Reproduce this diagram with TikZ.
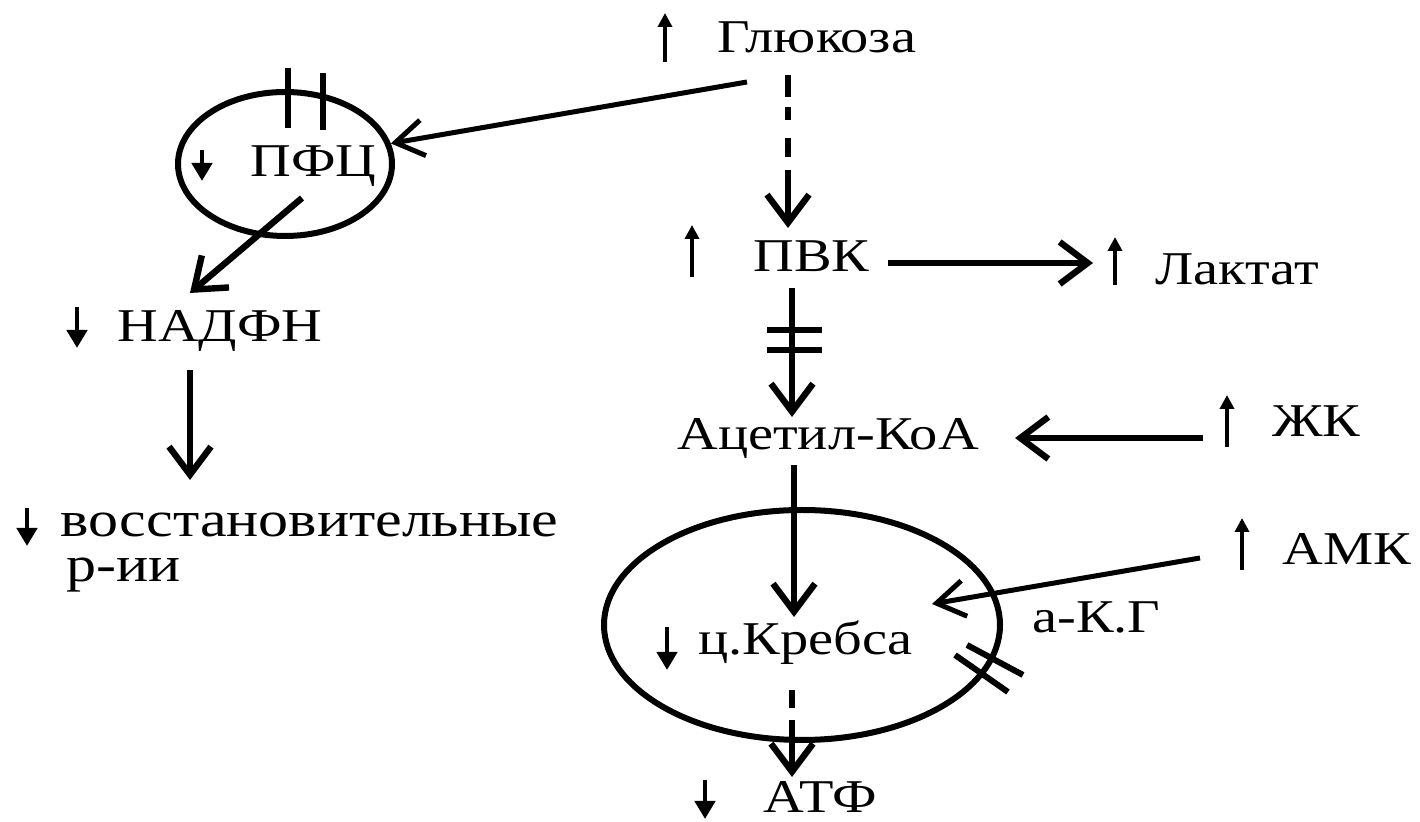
\documentclass[tikz,border=0pt]{standalone}
\usepackage{fontspec}
\setmainfont{Liberation Serif}[FakeStretch=1.2]
\usetikzlibrary{arrows.meta,shapes.geometric}
\begin{document}
\begin{tikzpicture}[x=0.5pt,y=-0.5pt,
  lbl/.style={inner sep=0pt, anchor=base west, font=\fontsize{23.5}{28}\selectfont},
  biglbl/.style={inner sep=0pt, anchor=base west, align=left, font=\fontsize{25}{22.5}\selectfont},
  cyc/.style={draw, ellipse, line width=3pt, inner sep=0pt},
  mainarr/.style={line width=3.2pt, -{Straight Barb[length=14pt,width=21pt]}},
  thinarr/.style={line width=2.5pt, -{Straight Barb[length=14pt,width=18pt]}},
  dashpart/.style={line width=3.2pt},
  bar/.style={line width=3pt},
  smallup/.style={line width=1.8pt, -{Triangle[length=7pt,width=7pt]}},
  smalldn/.style={line width=2.2pt, -{Triangle[length=9pt,width=10pt]}}]
\useasboundingbox (0,0) rectangle (1420,822);
\fill[white] (0,0) rectangle (1420,822);

% cycles
\node[cyc, minimum width=107pt, minimum height=72pt] (pfc) at (285,164) {};
\node[cyc, minimum width=198pt, minimum height=115pt] (krebs) at (802,625) {};

% labels
\node[lbl] (gluc) at (717,53) {Глюкоза};
\node[lbl] (pvk) at (753,272) {ПВК};
\node[lbl] (lakt) at (1155,285) {Лактат};
\node[lbl] (acet) at (677,450) {Ацетил-КоА};
\node[lbl] (zhk) at (1272,437) {ЖК};
\node[lbl] (amk) at (1282,565) {АМК};
\node[lbl] (akg) at (1032,633) {а-К.Г};
\node[lbl] (krebstxt) at (698,655) {ц.Кребса};
\node[lbl] (atf) at (763,813) {АТФ};
\node[lbl] (pfctxt) at (250,177) {ПФЦ};
\node[lbl] (nadfn) at (117,342) {НАДФН};
\node[biglbl] (vosst) at (60,582) {восстановительные\\\hspace*{3pt}р-ии};

% small up / down marks
\draw[smallup] (665,62) -- (665,13);
\draw[smallup] (692,277) -- (692,225);
\draw[smallup] (1115,285) -- (1115,237);
\draw[smallup] (1227,447) -- (1227,395);
\draw[smallup] (1242,570) -- (1242,518);
\draw[smalldn] (202,150) -- (202,181);
\draw[smalldn] (77,307) -- (77,348);
\draw[smalldn] (27,508) -- (27,546);
\draw[smalldn] (667,627) -- (667,670);
\draw[smalldn] (705,780) -- (705,819);

% connector end points
\coordinate (gA) at (747,82);
\coordinate (gD1) at (788,75);
\coordinate (gD2) at (788,170);
\coordinate (gD3) at (788,228);
\coordinate (pL1) at (888,263);
\coordinate (pL2) at (1093,263);
\coordinate (pA1) at (792,288);
\coordinate (pA2) at (792,417);
\coordinate (zA1) at (1203,438);
\coordinate (zA2) at (1015,438);
\coordinate (aK1) at (794,465);
\coordinate (aK2) at (794,617);
\coordinate (mK1) at (1200,558);
\coordinate (mK2) at (932,604);
\coordinate (kT1) at (792,690);
\coordinate (kT2) at (792,720);
\coordinate (kT3) at (792,777);
\coordinate (fN1) at (302,198);
\coordinate (fN2) at (190,293);
\coordinate (nV1) at (190,370);
\coordinate (nV2) at (190,480);

% connectors
\draw[thinarr] (gA) -- (pfc.11);
\draw[dashpart, dash pattern=on 11pt off 5pt on 6.5pt off 9pt on 9.5pt off 100pt] (gD1) -- (gD2);
\draw[mainarr] (gD2) -- (gD3);
\draw[mainarr] (pL1) -- (pL2);
\draw[mainarr] (pA1) -- (pA2);
\draw[bar] (767,330) -- (822,330);
\draw[bar] (767,350) -- (822,350);
\draw[mainarr] (zA1) -- (zA2);
\draw[mainarr] (aK1) -- (aK2);
\draw[thinarr] (mK1) -- (mK2);
\draw[dashpart] (kT1) -- (792,708);
\draw[mainarr] (kT2) -- (kT3);
\draw[mainarr] (fN1) -- (fN2);
\draw[mainarr] (nV1) -- (nV2);

% blocking bars
\draw[bar] (288,68) -- (288,128);
\draw[bar] (323,73) -- (323,130);
\draw[bar] (967,645) -- (1023,675);
\draw[bar] (955,655) -- (1008,692);
\end{tikzpicture}
\end{document}
